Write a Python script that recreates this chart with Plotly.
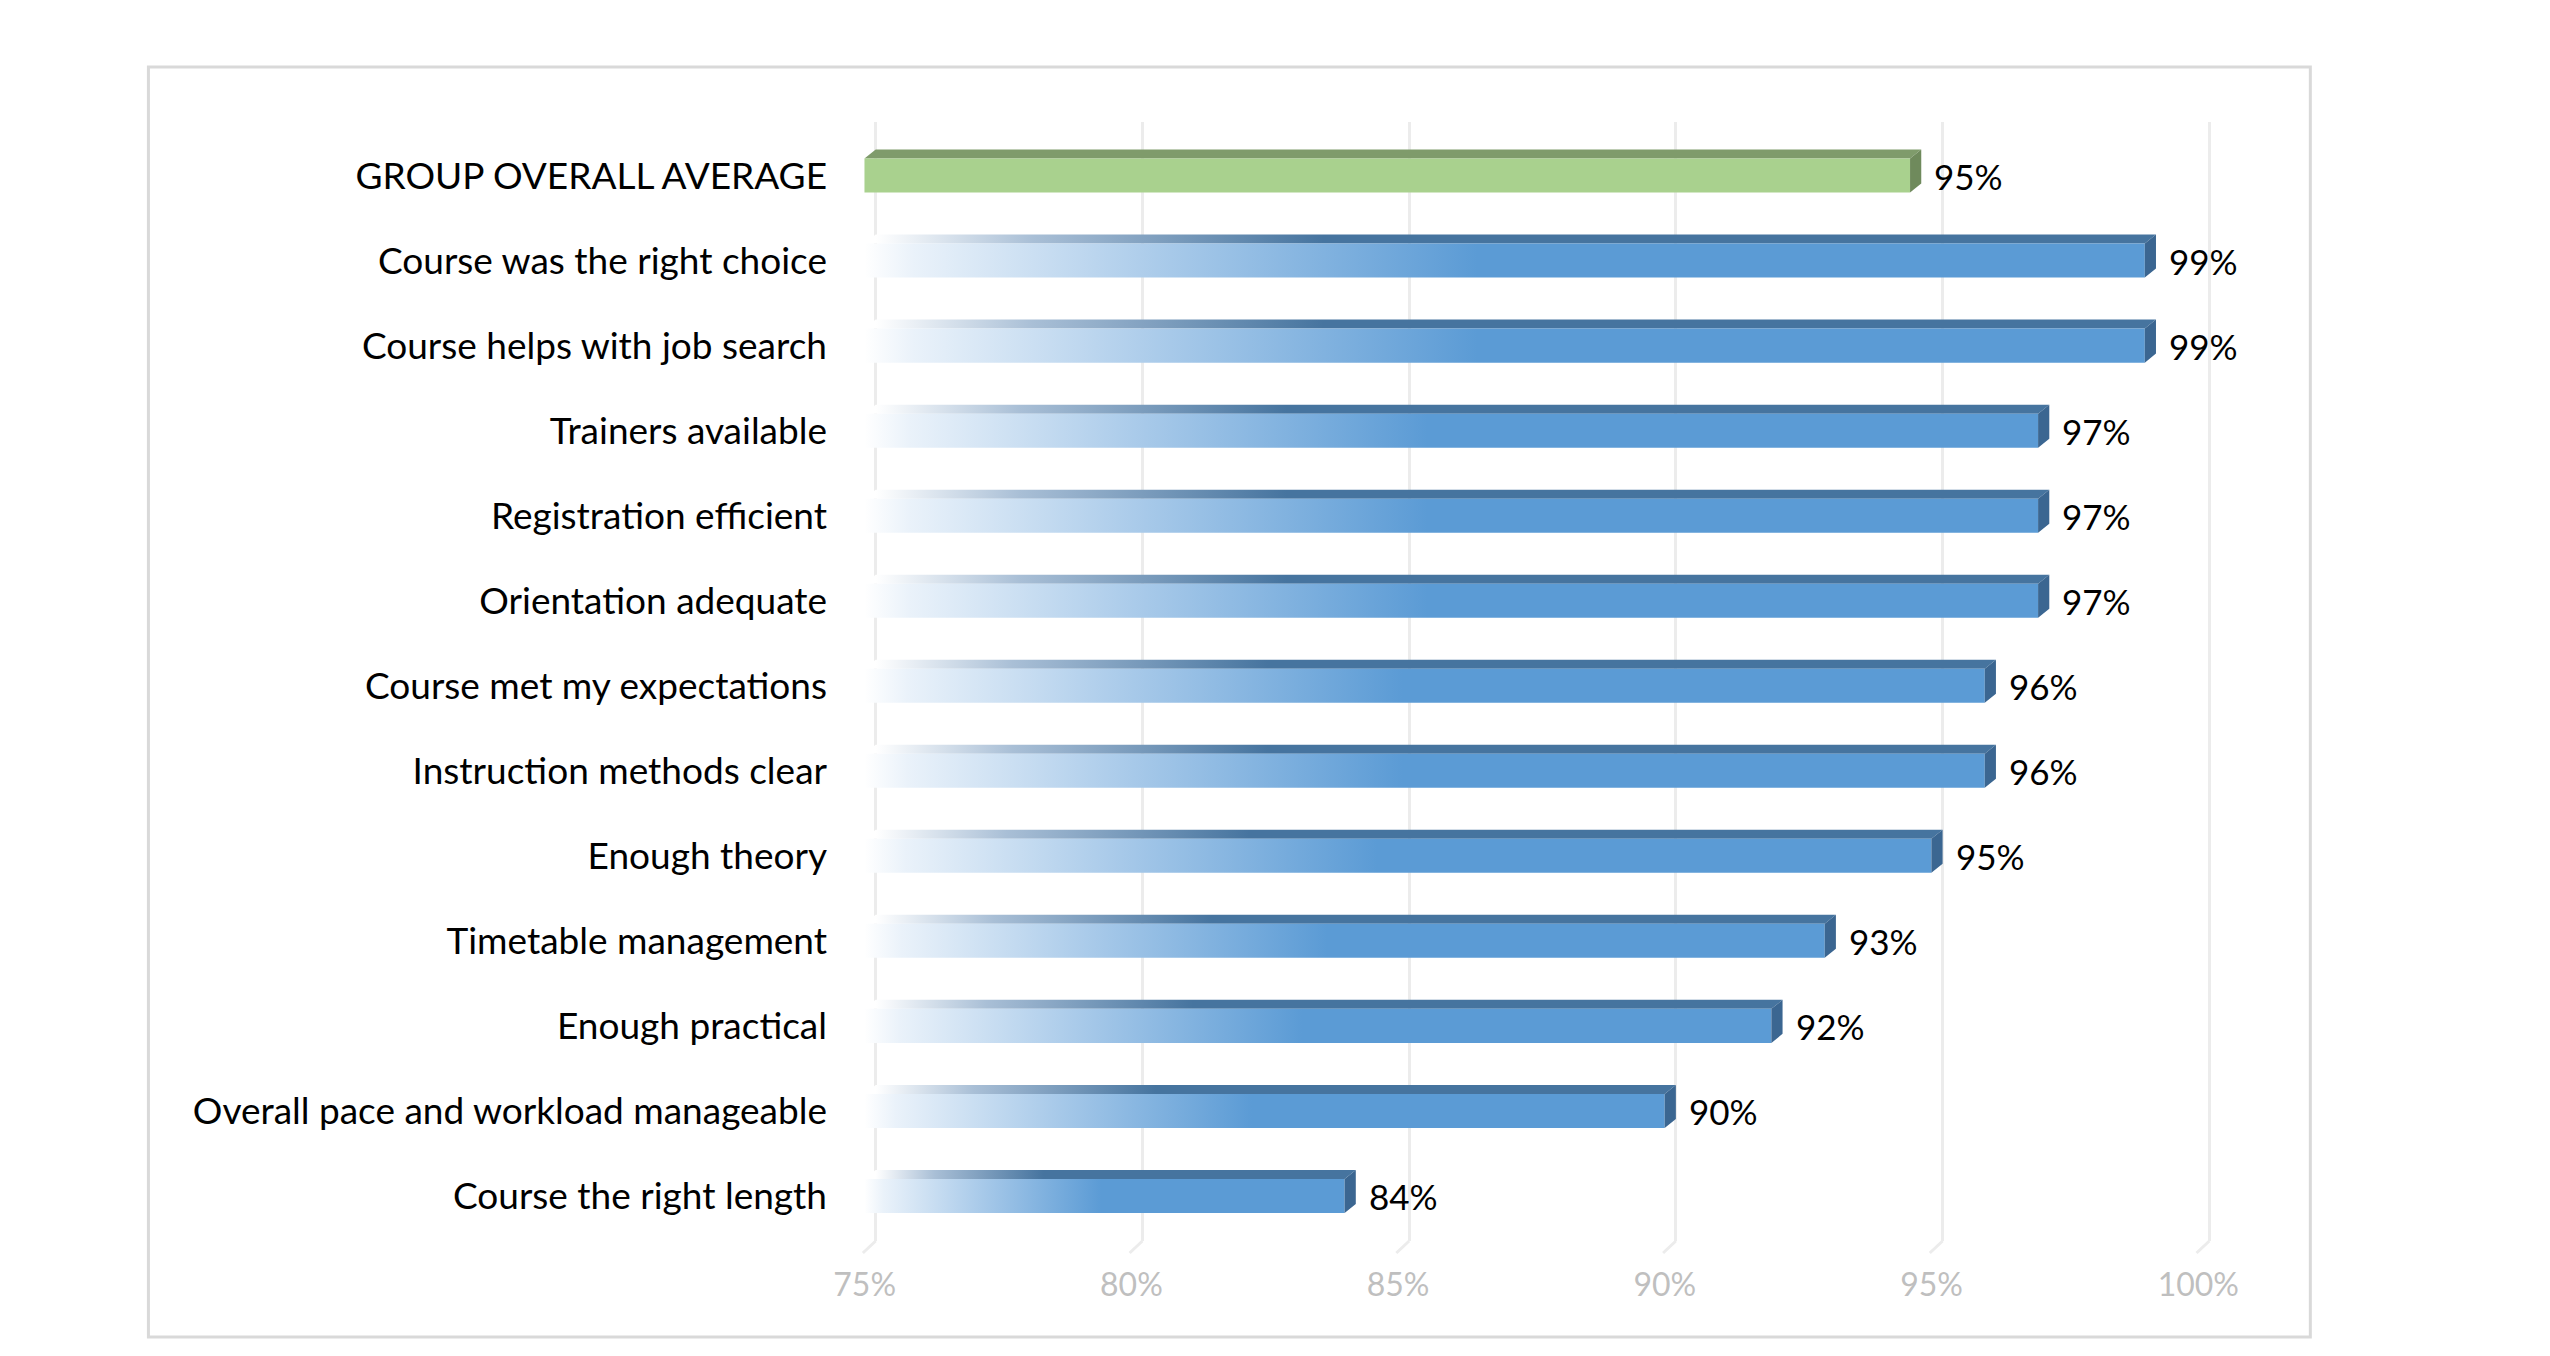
import plotly.graph_objects as go

categories = [
    "GROUP OVERALL AVERAGE",
    "Course was the right choice",
    "Course helps with job search",
    "Trainers available",
    "Registration efficient",
    "Orientation adequate",
    "Course met my expectations",
    "Instruction methods clear",
    "Enough theory",
    "Timetable management",
    "Enough practical",
    "Overall pace and workload manageable",
    "Course the right length",
]
values = [94.6, 99, 99, 97, 97, 97, 96, 96, 95, 93, 92, 90, 84]
x_ticks = [75, 80, 85, 90, 95, 100]
x_tick_labels = ["75%", "80%", "85%", "90%", "95%", "100%"]

BASE = 75
DX = 0.21      # depth offset (x units)
DY = 0.106     # depth offset (y units)
HH = 0.2       # half height of front face (y units)
FONT = "Lato"

fig = go.Figure()

side_x, side_y = [], []
side_g_x, side_g_y = [], []
for i, v in enumerate(values):
    y0, y1 = i - HH, i + HH   # y0 = top of front face (reversed axis)
    fx = [BASE - DX, v - DX, v - DX, BASE - DX, BASE - DX]
    fy = [y0, y0, y1, y1, y0]
    tx = [BASE - DX, v - DX, v, BASE, BASE - DX]
    ty = [y0, y0, y0 - DY, y0 - DY, y0]
    sx = [v - DX, v, v, v - DX, v - DX, None]
    sy = [y0, y0 - DY, y1 - DY, y1, y0, None]
    length = v - BASE
    if i == 0:
        fig.add_trace(go.Scatter(x=tx, y=ty, fill="toself", mode="lines",
                                 line=dict(width=0), fillcolor="#7f9b6b",
                                 hoverinfo="skip", showlegend=False))
        fig.add_trace(go.Scatter(x=fx, y=fy, fill="toself", mode="lines",
                                 line=dict(width=0), fillcolor="#a9d18e",
                                 hoverinfo="skip", showlegend=False))
        side_g_x += sx
        side_g_y += sy
    else:
        fig.add_trace(go.Scatter(
            x=tx, y=ty, fill="toself", mode="lines", line=dict(width=0),
            fillgradient=dict(type="horizontal",
                              colorscale=[[0, "#ffffff"], [0.35, "#a9bfd6"], [1, "#46749f"]],
                              start=BASE, stop=BASE + 0.35 * length),
            hoverinfo="skip", showlegend=False))
        fig.add_trace(go.Scatter(
            x=fx, y=fy, fill="toself", mode="lines", line=dict(width=0),
            fillgradient=dict(type="horizontal",
                              colorscale=[[0, "#ffffff"], [0.08, "#eaf2fa"], [0.5, "#a7c9e9"], [1, "#5b9bd5"]],
                              start=BASE - DX, stop=BASE + 0.47 * length),
            hoverinfo="skip", showlegend=False))
        side_x += sx
        side_y += sy

fig.add_trace(go.Scatter(x=side_x, y=side_y, fill="toself", mode="lines",
                         line=dict(width=0), fillcolor="#3b6691",
                         hoverinfo="skip", showlegend=False))
fig.add_trace(go.Scatter(x=side_g_x, y=side_g_y, fill="toself", mode="lines",
                         line=dict(width=0), fillcolor="#6f8a5c",
                         hoverinfo="skip", showlegend=False))

for i, v in enumerate(values):
    fig.add_annotation(x=v, y=i, text=f"{v:.0f}%", showarrow=False,
                       xanchor="left", yanchor="middle", xshift=11,
                       font=dict(family=FONT, size=35, color="#000000"))

# 3D floor feet of the gridlines
for t in x_ticks:
    fig.add_shape(type="line", xref="x", yref="paper",
                  x0=t, y0=0, x1=t - 0.24, y1=-0.0107,
                  line=dict(color="#ececec", width=3), layer="below")

fig.add_shape(type="rect", xref="paper", yref="paper",
              x0=-0.5051, x1=1.0536, y0=-0.0858, y1=1.0492,
              line=dict(color="#d9d9d9", width=3), layer="below")

fig.update_layout(
    width=2550, height=1356,
    margin=dict(l=841, r=322, t=114, b=123),
    paper_bgcolor="white", plot_bgcolor="white",
    font=dict(family=FONT, color="#000000"),
    xaxis=dict(range=[74.5, 100.5], tickvals=x_ticks, ticktext=x_tick_labels,
               showgrid=True, gridcolor="#ececec", gridwidth=3,
               zeroline=False, showline=False, ticks="",
               tickfont=dict(family=FONT, size=32, color="#bfbfbf"),
               ticklabelstandoff=22, ticklabelshift=-11, fixedrange=True),
    yaxis=dict(range=[12.53, -0.63], tickvals=list(range(len(categories))),
               ticktext=categories, showgrid=False, zeroline=False,
               showline=False, ticks="",
               tickfont=dict(family=FONT, size=37, color="#000000"),
               ticklabelstandoff=21, fixedrange=True),
)

fig.write_html("out.html")
